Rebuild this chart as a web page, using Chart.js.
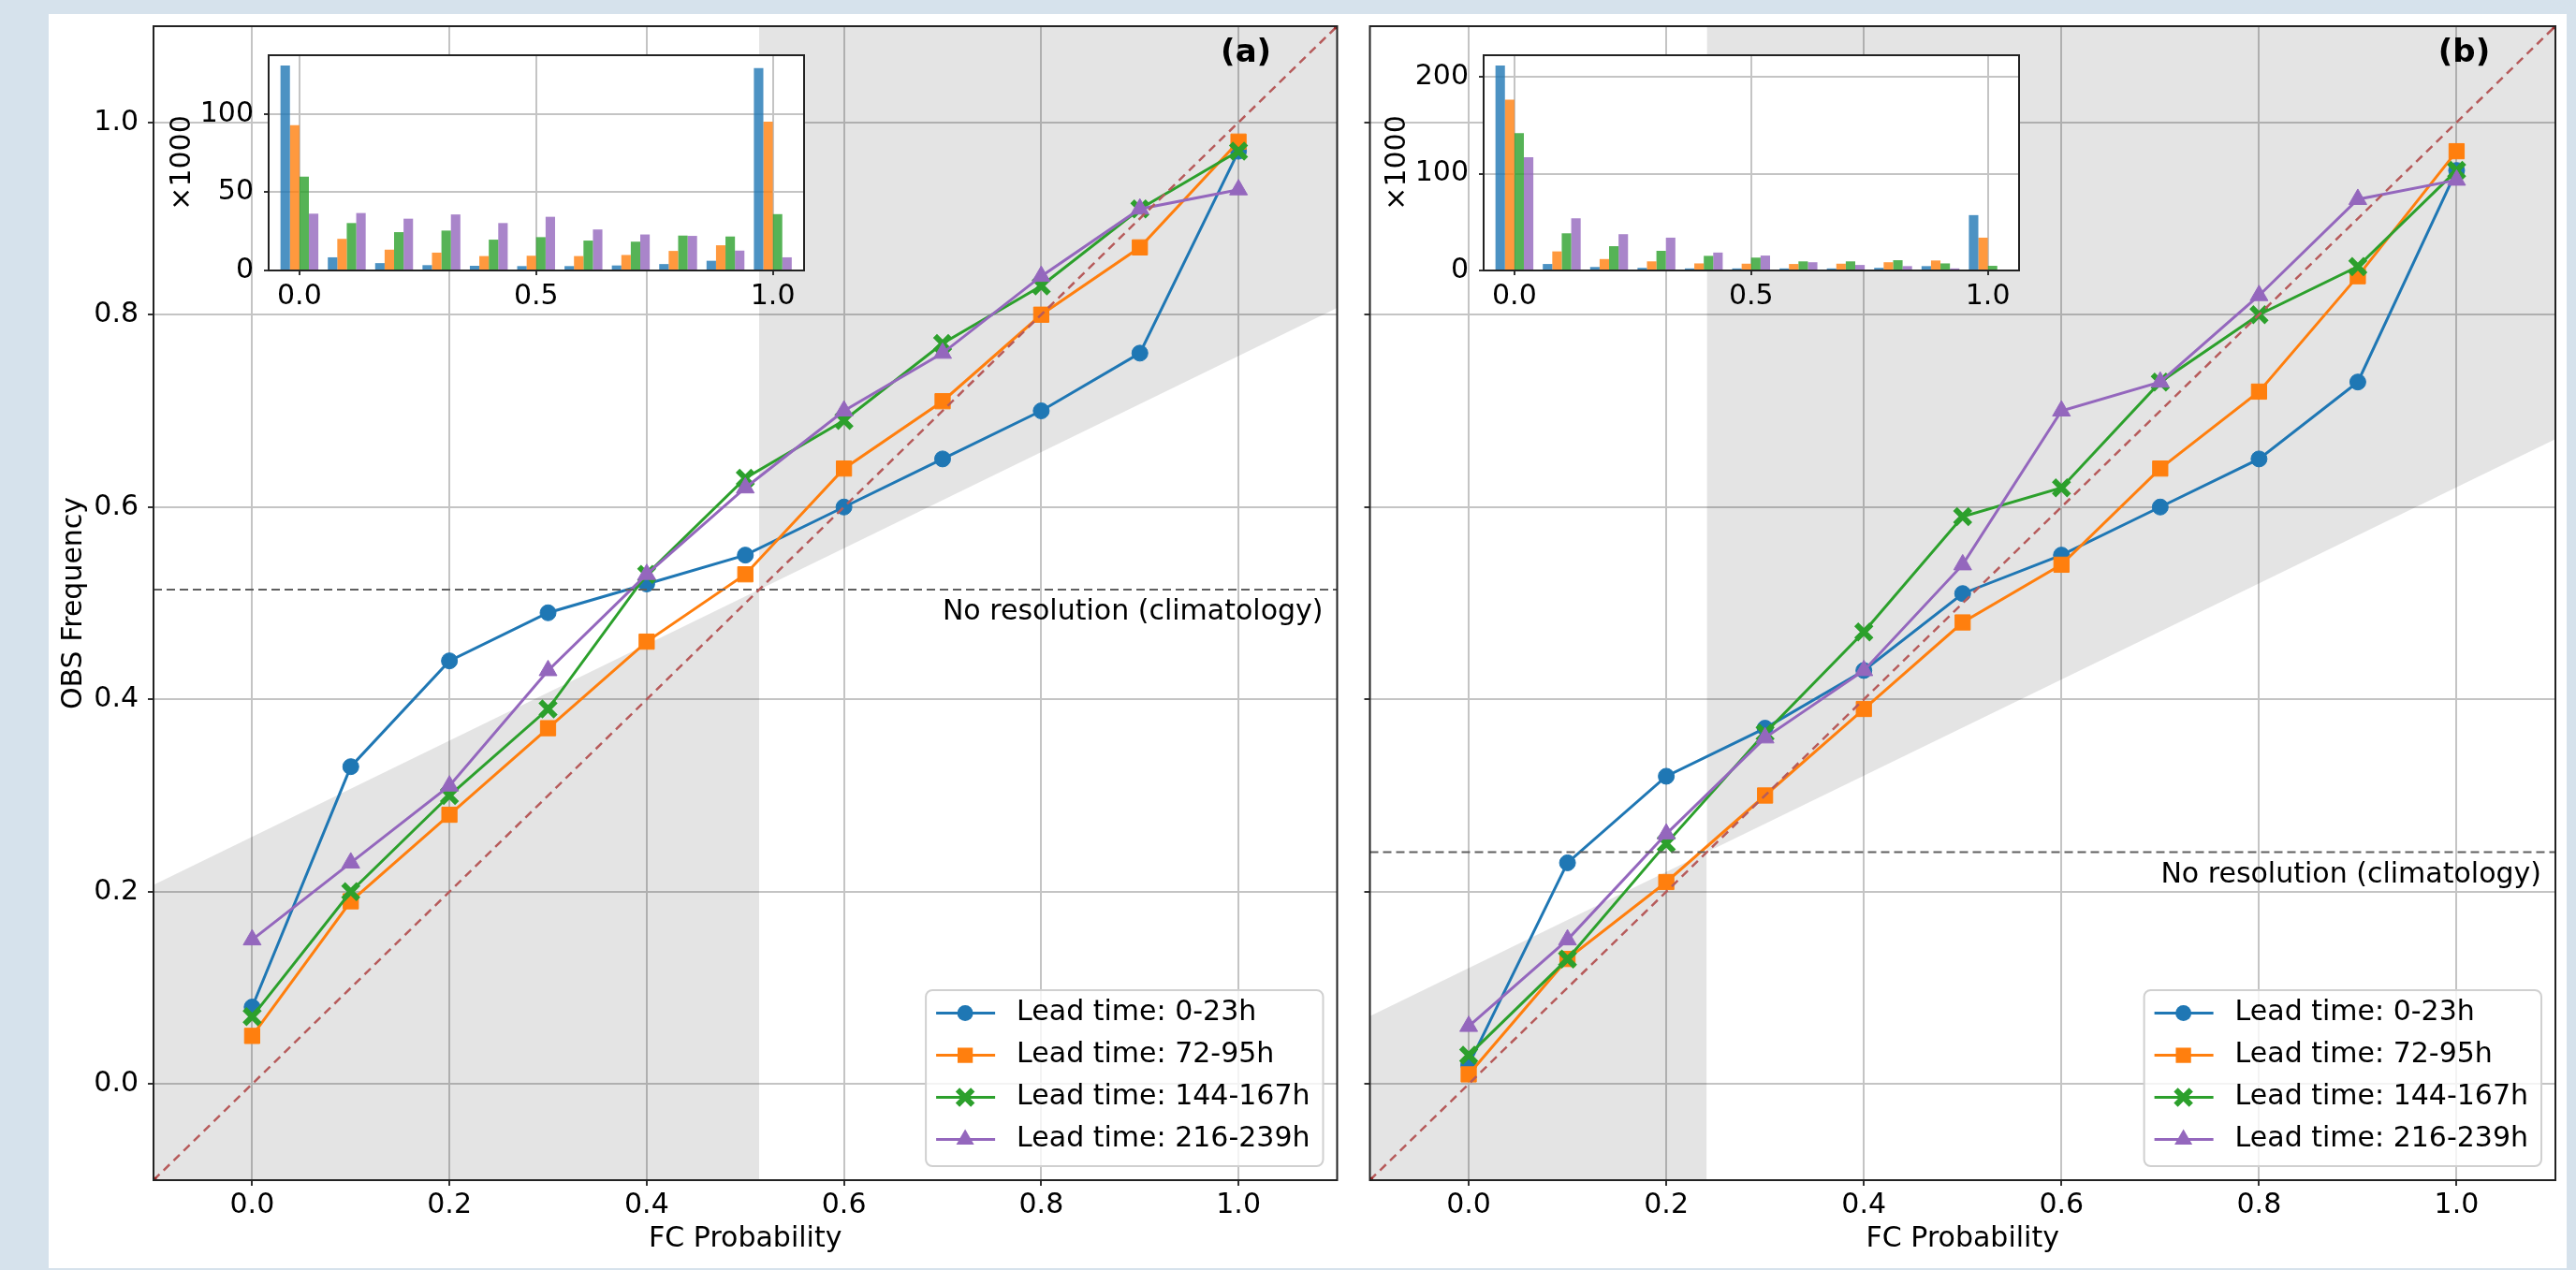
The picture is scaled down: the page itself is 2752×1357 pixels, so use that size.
<!DOCTYPE html>
<html>
<head>
<meta charset="utf-8">
<script src="https://cdn.jsdelivr.net/npm/chart.js@4.4.1/dist/chart.umd.min.js"></script>
<style>
  html, body { margin: 0; padding: 0; background: #d6e2ec; }
  #page { position: relative; width: 2752px; height: 1357px; overflow: hidden; background: #d6e2ec; }
  #sheet { position: absolute; left: 52px; top: 15px; width: 2690px; height: 1340px; background: #fff; }
  canvas { position: absolute; }
</style>
</head>
<body>
<div id="page">
  <div id="sheet"></div>
  <canvas id="mainA"></canvas>
  <canvas id="mainB"></canvas>
  <canvas id="insetA"></canvas>
  <canvas id="insetB"></canvas>
</div>
<script>
// forecast probability bins
const fcProb = [0.0, 0.1, 0.2, 0.3, 0.4, 0.5, 0.6, 0.7, 0.8, 0.9, 1.0];
const leadTimes = ['Lead time: 0-23h', 'Lead time: 72-95h', 'Lead time: 144-167h', 'Lead time: 216-239h'];

// (a) observed frequency per bin
const obsA_0_23    = [0.08, 0.33, 0.44, 0.49, 0.52, 0.55, 0.60, 0.65, 0.70, 0.76, 0.97];
const obsA_72_95   = [0.05, 0.19, 0.28, 0.37, 0.46, 0.53, 0.64, 0.71, 0.80, 0.87, 0.98];
const obsA_144_167 = [0.07, 0.20, 0.30, 0.39, 0.53, 0.63, 0.69, 0.77, 0.83, 0.91, 0.97];
const obsA_216_239 = [0.15, 0.23, 0.31, 0.43, 0.53, 0.62, 0.70, 0.76, 0.84, 0.91, 0.93];
const climA = 0.514;

// (b) observed frequency per bin
const obsB_0_23    = [0.02, 0.23, 0.32, 0.37, 0.43, 0.51, 0.55, 0.60, 0.65, 0.73, 0.95];
const obsB_72_95   = [0.01, 0.13, 0.21, 0.30, 0.39, 0.48, 0.54, 0.64, 0.72, 0.84, 0.97];
const obsB_144_167 = [0.03, 0.13, 0.25, 0.365, 0.47, 0.59, 0.62, 0.73, 0.80, 0.85, 0.95];
const obsB_216_239 = [0.06, 0.15, 0.26, 0.36, 0.43, 0.54, 0.70, 0.73, 0.82, 0.92, 0.94];
const climB = 0.241;

// forecast counts per bin (x1000)
const cntA_0_23    = [131.0, 8.4, 4.7, 3.4, 3.0, 2.8, 2.8, 3.2, 4.1, 6.2, 129.4];
const cntA_72_95   = [92.9, 20.2, 13.3, 11.4, 9.2, 9.4, 9.2, 9.9, 12.5, 16.1, 95.1];
const cntA_144_167 = [59.9, 30.3, 24.5, 25.5, 19.7, 21.3, 19.1, 18.4, 22.3, 21.7, 36.0];
const cntA_216_239 = [36.3, 36.7, 33.1, 35.8, 30.3, 34.3, 26.2, 23.0, 22.1, 12.7, 8.4];

const cntB_0_23    = [211.8, 6.7, 3.6, 2.7, 2.1, 2.1, 2.1, 2.1, 2.7, 4.5, 57.2];
const cntB_72_95   = [176.4, 19.7, 11.8, 9.4, 7.3, 7.0, 6.7, 7.0, 8.5, 10.3, 33.9];
const cntB_144_167 = [141.9, 38.4, 25.1, 20.3, 15.1, 13.3, 9.4, 9.4, 10.6, 7.3, 4.8];
const cntB_216_239 = [117.1, 53.9, 37.5, 33.9, 18.5, 15.4, 8.5, 5.7, 4.5, 2.1, 0.6];

// axes
const axisRange = [-0.1, 1.1];
const mainTicks = [0.0, 0.2, 0.4, 0.6, 0.8, 1.0];
const insetRange = [-0.065, 1.066];
const insetXTicks = [0.0, 0.5, 1.0];
const insetYTicksA = [0, 50, 100];
const insetYTicksB = [0, 100, 200];

const fam = '"DejaVu Sans", sans-serif';
const colors = ['#1f77b4', '#ff7f0e', '#2ca02c', '#9467bd'];
const marks = [
  { style: 'circle', r: 8.5, bw: 1 },
  { style: 'rect', r: 11.5, bw: 1 },
  { style: 'crossRot', r: 11.5, bw: 6 },
  { style: 'triangle', r: 11, bw: 1 }
];
const gridColor = '#c4c4c4';
const tickDark = '#333';

Chart.defaults.font.family = fam;
Chart.defaults.color = '#000';

function rgba(hex, a) {
  const n = parseInt(hex.slice(1), 16);
  return 'rgba(' + (n >> 16) + ',' + ((n >> 8) & 255) + ',' + (n & 255) + ',' + a + ')';
}

function place(cv, left, top, w, h) {
  cv.width = w; cv.height = h;
  cv.style.left = left + 'px'; cv.style.top = top + 'px';
  cv.style.width = w + 'px'; cv.style.height = h + 'px';
}

function fixTicks(list) {
  return function (s) { s.ticks = list.map(v => ({ value: v })); };
}

function drawMarker(ctx, i, x, y) {
  const m = marks[i], r = m.r, c = colors[i];
  ctx.save();
  ctx.fillStyle = c; ctx.strokeStyle = c;
  ctx.beginPath();
  if (m.style === 'circle') {
    ctx.arc(x, y, r, 0, Math.PI * 2);
    ctx.fill();
  } else if (m.style === 'rect') {
    const s = r * Math.SQRT1_2;
    ctx.rect(x - s, y - s, 2 * s, 2 * s);
    ctx.fill();
  } else if (m.style === 'triangle') {
    ctx.moveTo(x, y - r);
    ctx.lineTo(x + r * 0.866, y + r * 0.5);
    ctx.lineTo(x - r * 0.866, y + r * 0.5);
    ctx.closePath();
    ctx.fill();
  } else {
    const s = r * Math.SQRT1_2;
    ctx.lineWidth = m.bw;
    ctx.moveTo(x - s, y - s); ctx.lineTo(x + s, y + s);
    ctx.moveTo(x + s, y - s); ctx.lineTo(x - s, y + s);
    ctx.stroke();
  }
  ctx.restore();
}

function drawLegend(ctx, a) {
  ctx.save();
  ctx.font = '30px ' + fam;
  const maxW = Math.max(...leadTimes.map(t => ctx.measureText(t).width));
  const w = 97 + maxW + 14, h = 188;
  const x0 = a.right - 15 - w, y0 = a.bottom - 15 - h, rr = 7;
  ctx.beginPath();
  ctx.moveTo(x0 + rr, y0);
  ctx.arcTo(x0 + w, y0, x0 + w, y0 + h, rr);
  ctx.arcTo(x0 + w, y0 + h, x0, y0 + h, rr);
  ctx.arcTo(x0, y0 + h, x0, y0, rr);
  ctx.arcTo(x0, y0, x0 + w, y0, rr);
  ctx.closePath();
  ctx.fillStyle = 'rgba(255,255,255,0.8)';
  ctx.fill();
  ctx.strokeStyle = '#d0d0d0';
  ctx.lineWidth = 2;
  ctx.stroke();
  leadTimes.forEach((t, i) => {
    const y = y0 + 24.6 + 45 * i;
    ctx.strokeStyle = colors[i];
    ctx.lineWidth = 3;
    ctx.beginPath();
    ctx.moveTo(x0 + 11, y); ctx.lineTo(x0 + 74, y);
    ctx.stroke();
    drawMarker(ctx, i, x0 + 42, y);
    ctx.fillStyle = '#000';
    ctx.textAlign = 'left';
    ctx.textBaseline = 'middle';
    ctx.fillText(t, x0 + 97, y);
  });
  ctx.restore();
}

function mainDecor(clim, tag) {
  return {
    id: 'mainDecor' + tag,
    afterDatasetsDraw(chart) {
      const { ctx, chartArea: a, scales } = chart;
      ctx.save();
      ctx.fillStyle = '#000';
      ctx.font = '30px ' + fam;
      ctx.textAlign = 'right';
      ctx.textBaseline = 'alphabetic';
      ctx.fillText('No resolution (climatology)', a.right - 15, scales.y.getPixelForValue(clim) + 32);
      ctx.font = 'bold 34px ' + fam;
      ctx.textAlign = 'center';
      ctx.fillText('(' + tag + ')', a.left + a.width * 0.923, a.top + 38);
      ctx.restore();
      drawLegend(ctx, a);
    },
    afterDraw(chart) {
      const { ctx, chartArea: a } = chart;
      ctx.save();
      ctx.strokeStyle = '#222';
      ctx.lineWidth = 2;
      ctx.strokeRect(a.left, a.top, a.width, a.height);
      ctx.restore();
    }
  };
}

function mainChart(id, left, width, leftW, padR, obs, clim, tag, withLabels) {
  const cv = document.getElementById(id);
  place(cv, left, 0, width, 1357);
  const lo = axisRange[0], hi = axisRange[1];
  const noSkill = x => (x + clim) / 2;
  const shade = { backgroundColor: 'rgba(0,0,0,0.105)', borderWidth: 0, pointRadius: 0, order: 20 };
  const series = obs.map((vals, i) => ({
    label: leadTimes[i],
    data: fcProb.map((x, k) => ({ x: x, y: vals[k] })),
    borderColor: colors[i],
    backgroundColor: colors[i],
    borderWidth: 3,
    pointStyle: marks[i].style,
    pointRadius: marks[i].r,
    pointBorderWidth: marks[i].bw,
    pointBackgroundColor: colors[i],
    pointBorderColor: colors[i],
    fill: false,
    order: 10 - i
  }));
  const datasets = [
    Object.assign({}, shade, { data: [{ x: lo, y: noSkill(lo) }, { x: clim, y: noSkill(clim) }], fill: 'start' }),
    Object.assign({}, shade, { data: [{ x: clim, y: noSkill(clim) }, { x: hi, y: noSkill(hi) }], fill: 'end' }),
    { data: axisRange.map(v => ({ x: v, y: clim })), borderColor: '#5f5f5f', borderWidth: 2,
      borderDash: [9, 5], pointRadius: 0, fill: false, order: 1 },
    { data: axisRange.map(v => ({ x: v, y: v })), borderColor: '#b65b5b', borderWidth: 2.5,
      borderDash: [9, 6], pointRadius: 3, pointStyle: 'rect', pointBackgroundColor: '#9c2b2b',
      pointBorderColor: '#9c2b2b', fill: false, order: 0 }
  ].concat(series);

  return new Chart(cv, {
    type: 'line',
    data: { datasets: datasets },
    options: {
      responsive: false,
      animation: false,
      events: [],
      layout: { padding: { left: 0, top: 28, right: padR, bottom: 0 } },
      plugins: { legend: { display: false }, tooltip: { enabled: false } },
      scales: {
        x: {
          type: 'linear', min: lo, max: hi,
          afterBuildTicks: fixTicks(mainTicks),
          afterFit: s => { s.height = 96; },
          border: { display: false },
          grid: { color: gridColor, lineWidth: 2, tickColor: tickDark, tickLength: 6, tickWidth: 2 },
          ticks: { font: { size: 30 }, color: '#000', padding: 3, autoSkip: false, maxRotation: 0,
                   callback: v => v.toFixed(1) },
          title: { display: true, text: 'FC Probability', font: { size: 30 }, color: '#000',
                   padding: { top: 0, bottom: 15 } }
        },
        y: {
          type: 'linear', min: lo, max: hi,
          afterBuildTicks: fixTicks(mainTicks),
          afterFit: s => { s.width = leftW; },
          border: { display: false },
          grid: { color: gridColor, lineWidth: 2, tickColor: tickDark, tickLength: 6, tickWidth: 2 },
          ticks: { font: { size: 30 }, color: '#000', padding: 10, autoSkip: false,
                   callback: v => withLabels ? v.toFixed(1) : '' },
          title: { display: withLabels, text: 'OBS Frequency', font: { size: 30 }, color: '#000',
                   padding: { top: 61, bottom: 0 } }
        }
      }
    },
    plugins: [mainDecor(clim, tag)]
  });
}

function insetChart(id, areaLeft, areaTop, areaW, areaH, counts, yTicks) {
  const cv = document.getElementById(id);
  const padL = 130, padT = 14, padR = 10, padB = 50;
  place(cv, areaLeft - padL, areaTop - padT, padL + areaW + padR, padT + areaH + padB);
  const yMax = Math.max(...counts.map(c => Math.max(...c))) * 1.05;
  const datasets = counts.map((c, i) => ({
    label: leadTimes[i],
    data: fcProb.map((x, k) => ({ x: x, y: c[k] })),
    backgroundColor: rgba(colors[i], 0.8),
    borderWidth: 0,
    categoryPercentage: 0.8,
    barPercentage: 1.0
  }));
  const deco = {
    id: 'insetDeco' + id,
    beforeDraw(chart) {
      const { ctx, chartArea: a } = chart;
      ctx.save();
      ctx.fillStyle = '#fff';
      ctx.fillRect(a.left, a.top, a.width, a.height);
      ctx.restore();
    },
    afterDraw(chart) {
      const { ctx, chartArea: a } = chart;
      ctx.save();
      ctx.strokeStyle = '#222';
      ctx.lineWidth = 2;
      ctx.strokeRect(a.left, a.top, a.width, a.height);
      ctx.restore();
    }
  };
  return new Chart(cv, {
    type: 'bar',
    data: { datasets: datasets },
    options: {
      responsive: false,
      animation: false,
      events: [],
      layout: { padding: { left: 0, top: padT, right: padR, bottom: 0 } },
      plugins: { legend: { display: false }, tooltip: { enabled: false } },
      scales: {
        x: {
          type: 'linear', offset: false, min: insetRange[0], max: insetRange[1],
          afterBuildTicks: fixTicks(insetXTicks),
          afterFit: s => { s.height = padB; },
          border: { display: false },
          grid: { offset: false, color: gridColor, lineWidth: 2, tickColor: tickDark, tickLength: 5, tickWidth: 2 },
          ticks: { font: { size: 30 }, color: '#000', padding: 5, autoSkip: false, maxRotation: 0,
                   callback: v => v.toFixed(1) }
        },
        y: {
          type: 'linear', min: 0, max: yMax,
          afterBuildTicks: fixTicks(yTicks),
          afterFit: s => { s.width = padL; },
          border: { display: false },
          grid: { color: gridColor, lineWidth: 2, tickColor: tickDark, tickLength: 5, tickWidth: 2 },
          ticks: { font: { size: 30 }, color: '#000', padding: 11, autoSkip: false,
                   callback: v => String(v) },
          title: { display: true, text: '×1000', font: { size: 30 }, color: '#000',
                   padding: { top: 20, bottom: 0 } }
        }
      }
    },
    plugins: [deco]
  });
}

mainChart('mainA', 0, 1446, 164, 15,
  [obsA_0_23, obsA_72_95, obsA_144_167, obsA_216_239], climA, 'a', true);
mainChart('mainB', 1446, 1306, 16, 22,
  [obsB_0_23, obsB_72_95, obsB_144_167, obsB_216_239], climB, 'b', false);
insetChart('insetA', 287, 44, 572, 245,
  [cntA_0_23, cntA_72_95, cntA_144_167, cntA_216_239], insetYTicksA);
insetChart('insetB', 1585, 44, 572, 245,
  [cntB_0_23, cntB_72_95, cntB_144_167, cntB_216_239], insetYTicksB);
</script>
</body>
</html>
